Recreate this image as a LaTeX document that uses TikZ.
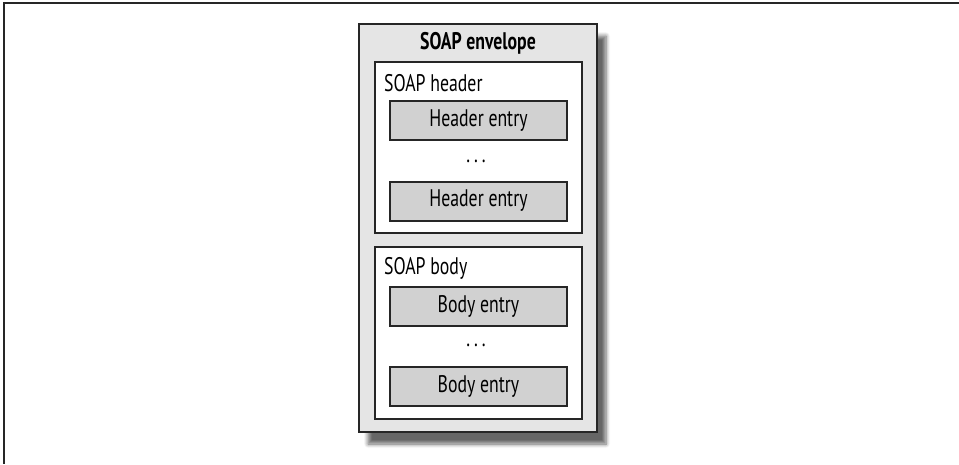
\documentclass[tikz,border=0pt]{standalone}
\usepackage{fontspec}
\setmainfont[FakeStretch=0.74]{PT Sans}
\usetikzlibrary{shadows.blur}
\begin{document}
\begin{tikzpicture}[x=1pt,y=-1pt,font=\fontsize{24}{28}\selectfont,
    envelope/.style={draw=black!85,line width=2pt,fill=black!10,minimum width=238pt,minimum height=408pt,
      blur shadow={shadow xshift=9pt,shadow yshift=-12pt,shadow blur steps=6,shadow blur radius=4pt,shadow opacity=60}},
    partbox/.style={draw=black!85,line width=1.6pt,fill=white,minimum width=207pt,minimum height=171pt},
    entry/.style={draw=black!85,line width=2pt,fill=black!18,minimum width=177pt,minimum height=39pt,inner sep=0pt},
    label/.style={inner sep=0pt}]
\useasboundingbox (0,0) rectangle (959,464);
\draw[line width=1.5pt,black!85] (959,3) -- (4,3) -- (4,464);
\node[envelope] (env) at (478,228) {};
\node[label,font=\fontsize{24}{28}\selectfont\bfseries] (envtitle) at (478,43) {SOAP envelope};
\node[partbox] (hdr) at (478.5,147.5) {};
\node[label,anchor=west] (hdrtitle) at (384,83) {SOAP header};
\node[entry] (he1) at (478.5,120.5) {Header entry};
\node[label] (hdots) at (476,161) {.\hspace{4pt}.\hspace{4pt}.};
\node[entry] (he2) at (478.5,201) {Header entry};
\node[partbox,minimum height=172pt] (bdy) at (478.5,333) {};
\node[label,anchor=west] (bdytitle) at (384,268) {SOAP body};
\node[entry] (be1) at (478.5,306.5) {Body entry};
\node[label] (bdots) at (476,345) {.\hspace{4pt}.\hspace{4pt}.};
\node[entry] (be2) at (478.5,386.5) {Body entry};
\end{tikzpicture}
\end{document}
